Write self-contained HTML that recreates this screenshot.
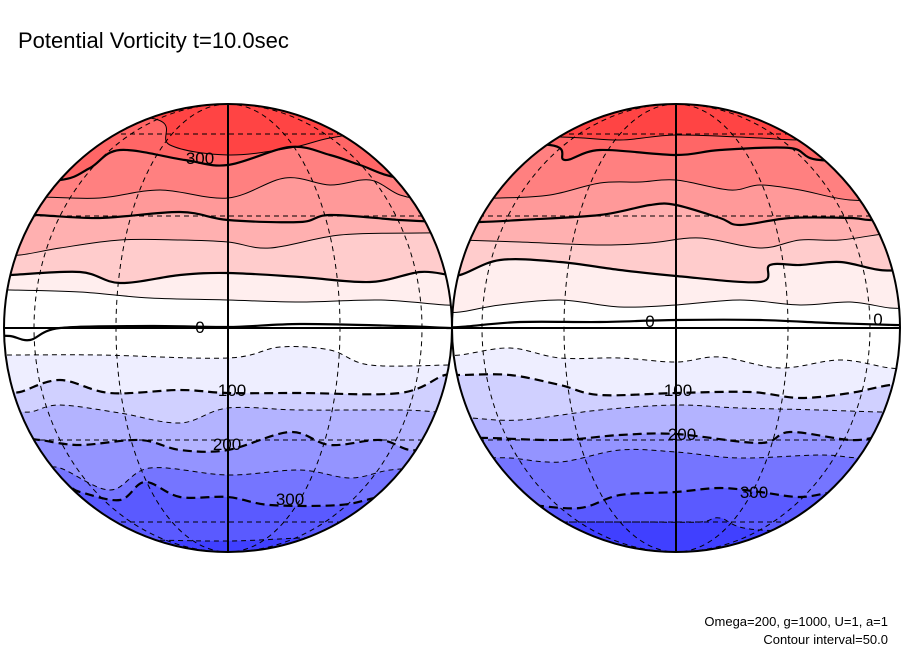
<!DOCTYPE html>
<html><head><meta charset="utf-8"><style>
html,body{margin:0;padding:0;background:#fff;}
svg{display:block;font-family:"Liberation Sans",sans-serif;}
</style></head><body>
<svg id="chart" width="904" height="654" viewBox="0 0 904 654">
<text x="18" y="48" font-size="22" fill="#000">Potential Vorticity t=10.0sec</text>
<text x="888" y="626" font-size="13" text-anchor="end" fill="#000">Omega=200, g=1000, U=1, a=1</text>
<text x="888" y="644" font-size="13" text-anchor="end" fill="#000">Contour interval=50.0</text>
</svg>
<script>
// contour levels, bottom to top
const levels = [-350,-300,-250,-200,-150,-100,-50,0,50,100,150,200,250,300,350];
// band colours: below first level, then above each level
const bandColors = ['#4040ff','#5a5aff','#7575ff','#9494ff','#b3b3ff','#d0d0ff','#eeeeff','#ffffff','#ffffff','#ffeeee','#ffcccc','#ffb0b0','#ff9999','#ff8080','#ff6666','#ff4444'];
// left globe contour positions: [x, y] samples per level
const leftContours = [
 [[140,540],[228,541],[300,538],[360,536]],
 [[60,485],[80,492],[120,500],[145,482],[180,497],[228,497],[270,505],[340,505],[380,497],[420,495]],
 [[40,470],[60,468],[110,490],[150,468],[228,475],[300,470],[350,478],[390,470],[430,468]],
 [[20,438],[40,440],[80,445],[140,440],[180,450],[228,450],[290,432],[330,445],[380,440],[410,450],[440,448]],
 [[10,410],[30,412],[60,405],[120,413],[180,423],[228,408],[300,410],[400,410],[440,412]],
 [[10,390],[20,392],[60,380],[110,393],[180,390],[228,393],[300,393],[400,393],[445,375]],
 [[10,355],[100,355],[228,358],[280,347],[330,350],[370,365],[450,365]],
 [[10,336],[30,340],[60,328],[150,326],[228,327],[300,324],[400,326],[450,328]],
 [[10,290],[80,292],[150,298],[228,300],[300,302],[380,300],[445,305]],
 [[10,275],[80,272],[120,283],[180,275],[228,273],[300,277],[370,282],[420,272],[450,275]],
 [[20,255],[60,248],[120,240],[180,240],[228,242],[270,248],[340,235],[420,233],[445,233]],
 [[35,215],[100,218],[180,212],[228,220],[300,222],[330,215],[400,220],[445,222]],
 [[40,197],[100,198],[160,190],[228,198],[285,178],[330,185],[370,180],[400,195],[430,200]],
 [[60,180],[90,168],[120,150],[185,160],[228,165],[290,147],[330,155],[360,165],[400,178]],
 [[150,118],[170,145],[228,155],[290,148],[330,138],[380,132]]
];
// right globe contour positions
const rightContours = [
 [[560,522],[640,522],[700,522],[720,518],[760,530]],
 [[510,505],[530,505],[580,508],[620,495],[676,492],[720,488],[760,492],[800,497],[840,492]],
 [[480,458],[510,458],[560,462],[620,450],[676,452],[740,458],[820,455],[860,458]],
 [[470,438],[490,438],[560,440],[620,435],[676,434],[760,443],[790,432],[850,440],[880,437]],
 [[460,418],[470,418],[520,420],[600,410],[676,405],[740,408],[820,410],[880,412]],
 [[460,375],[510,375],[560,385],[600,395],[676,393],[750,392],[800,398],[850,393],[890,385]],
 [[460,355],[510,348],[560,358],[620,358],[676,362],[720,357],[780,368],[840,360],[890,368]],
 [[460,327],[520,322],[600,322],[676,320],[760,320],[830,323],[895,325]],
 [[460,312],[500,305],[560,300],[620,307],[676,305],[740,300],[800,305],[850,302],[890,308]],
 [[460,275],[500,260],[560,262],[620,270],[676,276],[760,282],[770,265],[800,265],[840,262],[880,270]],
 [[460,240],[520,242],[600,245],[650,243],[700,238],[760,248],[800,240],[840,240],[890,233]],
 [[480,222],[520,220],[600,215],[650,205],[676,205],[720,218],[740,225],[790,218],[850,218],[870,220]],
 [[500,198],[550,195],[600,183],[640,182],[676,180],[730,190],[760,185],[800,190],[850,200]],
 [[550,145],[565,160],[600,150],[676,155],[720,150],[790,148],[820,160]],
 [[560,137],[620,140],[676,135],[760,138],[800,140]]
];
// contour labels [text, x, y]
const leftLabels = [['300',200,164],['0',200,333],['100',232,396],['200',227,450],['300',290,505]];
const rightLabels = [['0',650,327],['0',878,325],['100',678,396],['200',682,440],['300',754,498]];

const NS='http://www.w3.org/2000/svg';
const svg=document.getElementById('chart');
const R=224, CY=328;
function el(t,a,p){const e=document.createElementNS(NS,t);for(const k in a)e.setAttribute(k,a[k]);(p||svg).appendChild(e);return e;}
function smooth(pts){
  let d='M'+pts[0][0]+','+pts[0][1];
  for(let i=0;i<pts.length-1;i++){
    const p0=pts[Math.max(0,i-1)],p1=pts[i],p2=pts[i+1],p3=pts[Math.min(pts.length-1,i+2)];
    const c1=[p1[0]+(p2[0]-p0[0])/6,p1[1]+(p2[1]-p0[1])/6];
    const c2=[p2[0]-(p3[0]-p1[0])/6,p2[1]-(p3[1]-p1[1])/6];
    d+=' C'+c1[0].toFixed(1)+','+c1[1].toFixed(1)+' '+c2[0].toFixed(1)+','+c2[1].toFixed(1)+' '+p2[0]+','+p2[1];
  }
  return d;
}
function globe(id,cx,contours,labels){
  const g=el('g',{});
  
  
  const cp=el('clipPath',{id:id+'-clip'},g);
  el('circle',{cx:cx,cy:CY,r:R},cp);
  const inner=el('g',{'clip-path':'url(#'+id+'-clip)'},g);
  const bg=el('circle',{cx:cx,cy:CY,r:R,fill:bandColors[0]},inner);
  
  
  const paths=[];
  contours.forEach((c,i)=>{
    const pts=[[cx-R-15,c[0][1]]].concat(c,[[cx+R+15,c[c.length-1][1]]]);
    const d=smooth(pts);
    paths.push(d);
    const f=el('path',{d:d+' L'+(cx+R+15)+','+(CY-R-10)+' L'+(cx-R-15)+','+(CY-R-10)+' Z',fill:bandColors[i+1]},inner);
    
    
  });
  // graticule
  [30,60].forEach(lat=>{[-1,1].forEach(s=>{
    const y=CY-s*R*Math.sin(lat*Math.PI/180);
    el('line',{x1:cx-R,x2:cx+R,y1:y,y2:y,stroke:'#000','stroke-width':1,'stroke-dasharray':'5,4'},inner);
  });});
  [-60,-30,30,60].forEach(lon=>{
    const rx=R*Math.abs(Math.sin(lon*Math.PI/180));
    const sweep=lon>0?1:0;
    el('path',{d:'M'+cx+','+(CY-R)+' A'+rx+','+R+' 0 0 '+sweep+' '+cx+','+(CY+R),fill:'none',stroke:'#000','stroke-width':1,'stroke-dasharray':'5,4'},inner);
  });
  paths.forEach((d,i)=>{
    const lv=levels[i];
    const a={d:d,fill:'none',stroke:'#000','stroke-width':(lv%100===0)?2.2:1};
    if(lv<0)a['stroke-dasharray']=(lv%100===0)?'9,5':'5,4';
    const p=el('path',a,inner);
    
    
  });
  labels.forEach(l=>{
    const t=el('text',{x:l[1],y:l[2],'font-size':17,'text-anchor':'middle',fill:'#000',stroke:'none'},g);
    t.textContent=l[0];
    
    
    const bb=t.getBBox();
    const r=el('rect',{x:bb.x-2,y:bb.y+3,width:bb.width+4,height:bb.height-6,fill:'none'},g);
    g.insertBefore(r,t);
  });
  const ax=el('line',{x1:cx,x2:cx,y1:CY-R,y2:CY+R,stroke:'#000','stroke-width':2},g);
  
  
  const oc=el('circle',{cx:cx,cy:CY,r:R,fill:'none',stroke:'#000','stroke-width':2},g);
  
  
}
globe('left-globe',228,leftContours,leftLabels);
globe('right-globe',676,rightContours,rightLabels);
const eq=el('line',{x1:4,x2:900,y1:CY,y2:CY,stroke:'#000','stroke-width':2});


</script>
</body></html>
